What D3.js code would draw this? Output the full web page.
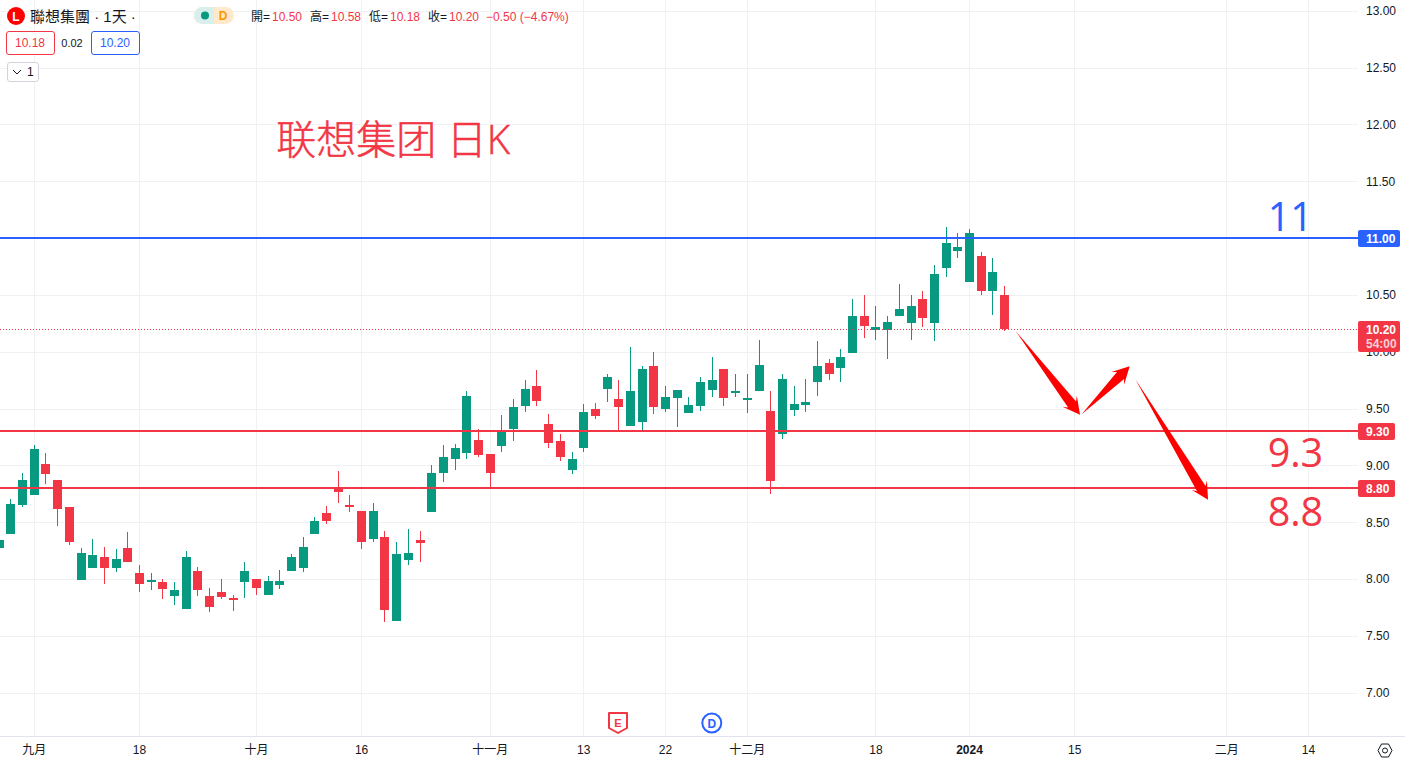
<!DOCTYPE html>
<html>
<head>
<meta charset="utf-8">
<script src="https://cdn.jsdelivr.net/npm/d3@7"></script>
<style>
  html, body { margin: 0; padding: 0; background: #fff; overflow: hidden; }
  text { font-family: "Liberation Sans", "Noto Sans CJK TC", sans-serif; }
</style>
</head>
<body>
<div id="chart"></div>
<script>
// daily bars, first one sits just off the left edge
const firstBar = -1;
const opens = [8.27,8.40,8.65,8.74,9.01,8.87,8.63,7.99,8.10,8.19,8.10,8.27,8.05,7.97,7.97,7.85,7.74,8.07,7.85,7.89,7.83,
  7.97,8.00,7.86,7.95,8.07,8.10,8.40,8.58,8.79,8.65,8.60,8.35,8.37,7.63,8.17,8.34,8.59,8.93,9.06,9.11,
  9.22,9.10,9.17,9.32,9.52,9.70,9.36,9.21,8.96,9.15,9.50,9.67,9.58,9.35,9.38,9.87,
  9.50,9.59,9.46,9.52,9.66,9.85,9.64,9.58,9.65,9.48,9.28,9.49,9.53,9.73,
  9.90,9.86,9.99,10.31,10.19,10.19,10.31,10.25,10.46,10.25,10.74,10.89,10.61,10.84,10.53,10.50];
const highs = [8.34,8.70,8.93,9.18,9.11,8.87,8.63,8.27,8.35,8.28,8.26,8.41,8.12,8.05,8.00,7.97,8.25,8.11,7.92,8.00,7.86,
  8.15,8.00,8.03,8.08,8.22,8.37,8.55,8.64,8.95,8.74,8.60,8.67,8.42,8.33,8.44,8.42,9.00,9.18,9.19,9.65,
  9.32,9.10,9.44,9.58,9.75,9.84,9.45,9.28,9.12,9.54,9.55,9.80,9.75,10.04,9.87,10.00,
  9.70,9.66,9.60,9.78,9.95,9.85,9.80,9.80,10.10,9.65,9.80,9.70,9.76,10.09,
  9.94,10.02,10.46,10.50,10.40,10.31,10.60,10.50,10.53,10.76,11.10,11.04,11.08,10.88,10.82,10.58];
const lows = [8.27,8.40,8.63,8.74,8.84,8.47,8.30,7.99,8.10,7.96,8.06,8.15,7.89,7.90,7.82,7.77,7.74,7.85,7.71,7.82,7.72,
  7.83,7.86,7.86,7.91,8.07,8.06,8.40,8.48,8.67,8.59,8.26,8.33,7.62,7.63,8.12,8.15,8.59,8.85,8.96,9.06,
  9.07,8.81,9.12,9.21,9.47,9.52,9.15,9.04,8.92,9.12,9.41,9.56,9.31,9.35,9.31,9.45,
  9.47,9.34,9.46,9.48,9.60,9.52,9.60,9.46,9.65,8.75,9.23,9.43,9.47,9.61,
  9.75,9.73,9.99,10.12,10.10,9.94,10.31,10.10,10.22,10.09,10.66,10.82,10.61,10.50,10.32,10.18];
const closes = [8.34,8.66,8.87,9.14,8.92,8.62,8.33,8.23,8.21,8.10,8.18,8.15,7.96,7.99,7.91,7.90,8.19,7.90,7.75,7.84,7.82,
  8.07,7.92,7.98,7.98,8.19,8.28,8.51,8.51,8.77,8.63,8.33,8.60,7.73,8.22,8.23,8.32,8.93,9.07,9.15,9.61,
  9.09,8.93,9.29,9.51,9.67,9.57,9.20,9.07,9.06,9.47,9.43,9.78,9.51,9.65,9.85,9.51,
  9.60,9.66,9.53,9.73,9.75,9.59,9.65,9.59,9.88,8.86,9.76,9.54,9.56,9.87,
  9.80,9.95,10.31,10.23,10.22,10.26,10.38,10.40,10.30,10.68,10.96,10.92,11.04,10.53,10.70,10.20];

const priceTicks = [13, 12.5, 12, 11.5, 11, 10.5, 10, 9.5, 9, 8.5, 8, 7.5, 7];
const timeTickBars = [2, 11, 21, 30, 41, 49, 56, 63, 74, 82, 91, 104, 111];
const timeTickLabels = ["九月", "18", "十月", "16", "十一月", "13", "22", "十二月", "18", "2024", "15", "二月", "14"];

const levelPrices = [11, 9.3, 8.8];
const levelColors = ["#2962FF", "#F23645", "#F23645"];
const lastClose = 10.2;

// hand drawn arrows, bar index + price at both ends
const arrowStartBars = [86.0, 91.64, 96.23];
const arrowStartPrices = [10.18, 9.449, 9.757];
const arrowEndBars = [91.5, 95.75, 102.45];
const arrowEndPrices = [9.445, 9.871, 8.698];

const noteTexts = ["联想集团 日K", "11", "9.3", "8.8"];
const noteBars = [22.75, 107.55, 107.55, 107.55];
const notePrices = [11.74, 11.06, 8.985, 8.466];
const noteColors = ["#F23645", "#2962FF", "#F23645", "#F23645"];

const width = 1405, height = 764;
const axisX = 1358, axisY = 736;
const red = "#F23645", green = "#089981", blue = "#2962FF", ink = "#131722";

const x = d3.scaleLinear().domain([0, 85]).range([10.4, 1004.05]);
const y = d3.scaleLinear().domain([7, 13]).range([692.7, 10.7]);
const bars = closes.map((d, i) => ({ bar: firstBar + i, o: opens[i], h: highs[i], l: lows[i], c: d }));
const barColor = (d) => (d.c >= d.o ? green : red);

const svg = d3.select("#chart").append("svg").attr("width", width).attr("height", height)
  .style("display", "block");

// grid
const grid = svg.append("g").attr("stroke", "#f0f1f4").attr("shape-rendering", "crispEdges");
grid.selectAll(".h").data(priceTicks).join("line").attr("class", "h")
  .attr("x1", 0).attr("x2", axisX)
  .attr("y1", (d) => Math.round(y(d)) + 0.5).attr("y2", (d) => Math.round(y(d)) + 0.5);
grid.selectAll(".v").data(timeTickBars).join("line").attr("class", "v")
  .attr("y1", 0).attr("y2", axisY)
  .attr("x1", (d) => Math.round(x(d)) + 0.5).attr("x2", (d) => Math.round(x(d)) + 0.5);

// candles
const candles = svg.append("g").attr("shape-rendering", "crispEdges");
candles.selectAll(".wick").data(bars).join("rect").attr("class", "wick")
  .attr("x", (d) => Math.round(x(d.bar))).attr("width", 1)
  .attr("y", (d) => Math.round(y(d.h)))
  .attr("height", (d) => Math.max(1, Math.round(y(d.l)) - Math.round(y(d.h))))
  .attr("fill", barColor);
candles.selectAll(".body").data(bars).join("rect").attr("class", "body")
  .attr("x", (d) => Math.round(x(d.bar)) - 4).attr("width", 9)
  .attr("y", (d) => Math.round(y(Math.max(d.o, d.c))))
  .attr("height", (d) => Math.max(2, Math.round(y(Math.min(d.o, d.c))) - Math.round(y(Math.max(d.o, d.c)))))
  .attr("fill", barColor);

// horizontal levels
svg.append("g").attr("shape-rendering", "crispEdges").selectAll("line").data(levelPrices).join("line")
  .attr("x1", 0).attr("x2", axisX)
  .attr("y1", (d) => Math.round(y(d))).attr("y2", (d) => Math.round(y(d)))
  .attr("stroke", (d, i) => levelColors[i]).attr("stroke-width", 2);
svg.append("line").attr("x1", 0).attr("x2", axisX)
  .attr("y1", Math.round(y(lastClose)) + 0.5).attr("y2", Math.round(y(lastClose)) + 0.5)
  .attr("stroke", red).attr("stroke-dasharray", "1 2").attr("shape-rendering", "crispEdges");

// arrows
function arrowPath(x0, y0, x1, y1) {
  const len = Math.hypot(x1 - x0, y1 - y0);
  const ux = (x1 - x0) / len, uy = (y1 - y0) / len;
  const px = -uy, py = ux;
  const at = (along, side) => [x1 - ux * along + px * side, y1 - uy * along + py * side];
  return d3.line()([[x0, y0], at(13, 5), at(17, 9), [x1, y1], at(17, -9), at(13, -5)]) + "Z";
}
svg.append("g").selectAll("path").data(arrowStartBars).join("path")
  .attr("d", (d, i) => arrowPath(x(d), y(arrowStartPrices[i]), x(arrowEndBars[i]), y(arrowEndPrices[i])))
  .attr("fill", "#ff0000");

// big notes on the chart, the title uses the lighter cut
svg.append("g").selectAll("text").data(noteTexts).join("text")
  .attr("x", (d, i) => x(noteBars[i])).attr("y", (d, i) => y(notePrices[i]))
  .attr("fill", (d, i) => noteColors[i])
  .attr("stroke", (d, i) => (i ? "none" : noteColors[i]))
  .attr("stroke-width", 0.5)
  .attr("font-size", (d, i) => (i ? 39.5 : 40))
  .style("font-family", '"Open Sans", "Noto Sans CJK SC", sans-serif')
  .style("font-weight", (d, i) => (i ? 400 : 300))
  .text((d) => d);

// axes
const priceAxis = d3.axisRight(y).tickValues(priceTicks).tickFormat(d3.format(".2f")).tickSize(0).tickPadding(0);
const gy = svg.append("g").attr("transform", "translate(1366,0)").call(priceAxis);
gy.select(".domain").remove();
gy.selectAll("text").attr("font-size", 12).attr("fill", ink).style("font-family", null);

const timeAxis = d3.axisBottom(x).tickValues(timeTickBars)
  .tickFormat((d, i) => timeTickLabels[i]).tickSize(0).tickPadding(0);
const gx = svg.append("g").attr("transform", "translate(0,745)").call(timeAxis);
gx.select(".domain").remove();
gx.selectAll("text").attr("font-size", 12).attr("fill", ink).style("font-family", null)
  .attr("font-weight", (d, i) => (timeTickLabels[i] === "2024" ? "bold" : null));

svg.append("line").attr("x1", 0).attr("x2", width).attr("y1", axisY + 0.5).attr("y2", axisY + 0.5)
  .attr("stroke", "#e0e3eb").attr("shape-rendering", "crispEdges");

// price tags on the axis
function priceTag(price, w, h, fill, lines) {
  const cy = Math.round(y(price));
  const top = cy - 8;
  svg.append("rect").attr("x", axisX).attr("y", top).attr("width", w).attr("height", h)
    .attr("rx", 2).attr("fill", fill);
  lines.forEach((t, i) => {
    svg.append("text").attr("x", 1366).attr("y", top + 12.5 + i * 14)
      .attr("font-size", 12).attr("fill", i ? "#fbd0d4" : "#fff").attr("font-weight", "bold").text(t);
  });
}
priceTag(11, 42, 17, blue, ["11.00"]);
priceTag(lastClose, 42, 31, red, ["10.20", "54:00"]);
priceTag(9.3, 37, 17, red, ["9.30"]);
priceTag(8.8, 37, 17, red, ["8.80"]);

// event markers under the candles
const eventY = 723;
const ex = Math.round(x(52));
svg.append("path")
  .attr("d", d3.line()([[ex - 9, eventY - 10], [ex + 9, eventY - 10], [ex + 9, eventY + 5], [ex, eventY + 10], [ex - 9, eventY + 5]]) + "Z")
  .attr("fill", "#fff").attr("stroke", red).attr("stroke-width", 2).attr("stroke-linejoin", "round");
svg.append("text").attr("x", ex).attr("y", eventY + 4).attr("text-anchor", "middle")
  .attr("font-size", 11).attr("font-weight", "bold").attr("fill", red).text("E");
svg.append("circle").attr("cx", x(60)).attr("cy", eventY).attr("r", 9.5)
  .attr("fill", "#fff").attr("stroke", blue).attr("stroke-width", 2);
svg.append("text").attr("x", x(60)).attr("y", eventY + 4.5).attr("text-anchor", "middle")
  .attr("font-size", 12).attr("font-weight", "bold").attr("fill", blue).text("D");

// legend block top left
svg.append("circle").attr("cx", 16).attr("cy", 16).attr("r", 9).attr("fill", "#f00");
svg.append("text").attr("x", 16).attr("y", 20.5).attr("text-anchor", "middle")
  .attr("font-size", 12).attr("font-weight", "bold").attr("fill", "#fff").text("L");
svg.append("text").attr("x", 30).attr("y", 22).attr("font-size", 15).attr("fill", ink).text("聯想集團 · 1天 ·");

svg.append("rect").attr("x", 194).attr("y", 7).attr("width", 40).attr("height", 17).attr("rx", 8.5).attr("fill", "#ffe9cc");
svg.append("path").attr("d", "M214 7H202.5a8.5 8.5 0 0 0 0 17H214Z").attr("fill", "#d9efeb");
svg.append("circle").attr("cx", 205).attr("cy", 15.5).attr("r", 4).attr("fill", green);
svg.append("text").attr("x", 223).attr("y", 20).attr("text-anchor", "middle")
  .attr("font-size", 12).attr("font-weight", "bold").attr("fill", "#ff9800").text("D");

const legendLabels = ["開=", "高=", "低=", "收="];
const legendValues = ["10.50", "10.58", "10.18", "10.20"];
const legendX = [251, 310, 369, 428];
legendLabels.forEach((t, i) => {
  svg.append("text").attr("x", legendX[i]).attr("y", 21).attr("font-size", 12).attr("fill", ink).text(t);
  svg.append("text").attr("x", legendX[i] + 21).attr("y", 21).attr("font-size", 12).attr("fill", red).text(legendValues[i]);
});
svg.append("text").attr("x", 486).attr("y", 21).attr("font-size", 12).attr("fill", red).text("−0.50 (−4.67%)");

function box(bx, by, w, h, stroke) {
  svg.append("rect").attr("x", bx + 0.5).attr("y", by + 0.5).attr("width", w).attr("height", h)
    .attr("rx", 2.5).attr("fill", "#fff").attr("stroke", stroke);
}
box(6, 31, 48, 23, red);
svg.append("text").attr("x", 30).attr("y", 47).attr("text-anchor", "middle").attr("font-size", 12).attr("fill", red).text("10.18");
svg.append("text").attr("x", 72).attr("y", 47).attr("text-anchor", "middle").attr("font-size", 11).attr("fill", ink).text("0.02");
box(91, 31, 48, 23, blue);
svg.append("text").attr("x", 115).attr("y", 47).attr("text-anchor", "middle").attr("font-size", 12).attr("fill", blue).text("10.20");
box(7, 62, 31, 19, "#d1d4dc");
svg.append("path").attr("d", "M13 70l4 4 4-4").attr("fill", "none").attr("stroke", ink);
svg.append("text").attr("x", 27).attr("y", 76).attr("font-size", 12).attr("fill", ink).text("1");

// settings icon bottom right
svg.append("path").attr("d", "M1378 750.5l3.5-6.5h7l3.5 6.5-3.5 6.5h-7Z").attr("fill", "none").attr("stroke", ink);
svg.append("circle").attr("cx", 1385).attr("cy", 750.5).attr("r", 2.5).attr("fill", "none").attr("stroke", ink);
</script>
</body>
</html>
